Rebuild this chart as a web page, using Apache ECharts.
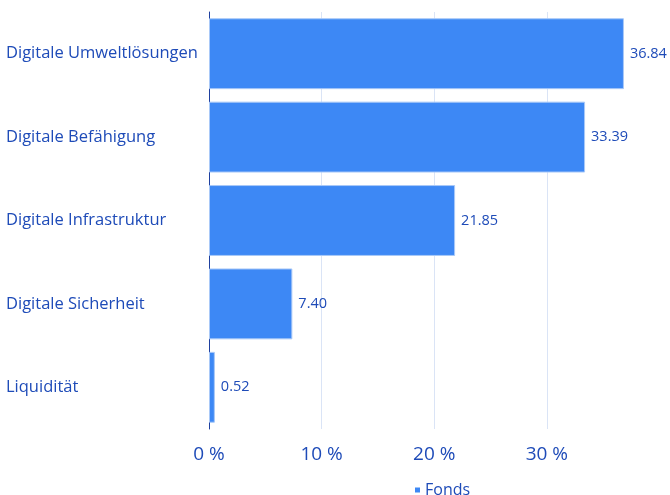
<!DOCTYPE html>
<html>
<head>
<meta charset="utf-8">
<script src="https://cdn.jsdelivr.net/npm/echarts@6/dist/echarts.min.js"></script>
<style>
  html, body { margin: 0; padding: 0; background: #fff; }
  #chart { width: 670px; height: 495px; }
</style>
</head>
<body>
<div id="chart"></div>
<script>
const categories = [
  'Digitale Umweltlösungen',
  'Digitale Befähigung',
  'Digitale Infrastruktur',
  'Digitale Sicherheit',
  'Liquidität',
];
const fondsValues = [36.84, 33.39, 21.85, 7.40, 0.52];

const textColor = '#1e4bb8';
const font = '"Open Sans", sans-serif';

const chart = echarts.init(document.getElementById('chart'));
chart.setOption({
  animation: false,
  grid: { left: 209, right: 33, top: 12, bottom: 66, containLabel: false },
  legend: {
    data: ['Fonds'],
    left: 410,
    top: 477,
    icon: 'rect',
    itemWidth: 5,
    itemHeight: 5,
    itemGap: 7,
    itemStyle: { borderWidth: 0 },
    textStyle: { color: textColor, fontSize: 16, fontFamily: font },
  },
  xAxis: {
    type: 'value',
    min: 0,
    max: 38,
    interval: 10,
    axisLine: { show: false },
    axisTick: { show: false },
    splitLine: { show: true, showMaxLine: false, lineStyle: { color: '#dae4f6', width: 1 } },
    axisLabel: {
      color: textColor,
      fontSize: 19,
      fontFamily: font,
      margin: 16,
      showMaxLabel: false,
      formatter: v => (v % 10 === 0 ? v + ' %' : ''),
    },
  },
  yAxis: {
    type: 'category',
    data: categories,
    inverse: true,
    axisLine: { show: true, lineStyle: { color: '#1e3f9e', width: 1 } },
    axisTick: { show: false },
    axisLabel: {
      color: textColor,
      fontSize: 16.5,
      fontFamily: font,
      align: 'left',
      margin: 203,
    },
  },
  series: [
    {
      name: 'Fonds',
      type: 'bar',
      data: fondsValues,
      barCategoryGap: '15%',
      itemStyle: { color: '#3d88f5', borderColor: '#a9c9f8', borderWidth: 1 },
      label: {
        show: true,
        position: 'right',
        distance: 6,
        color: textColor,
        fontSize: 14.5,
        fontFamily: font,
        formatter: p => p.value.toFixed(2),
      },
    },
  ],
});
</script>
</body>
</html>
